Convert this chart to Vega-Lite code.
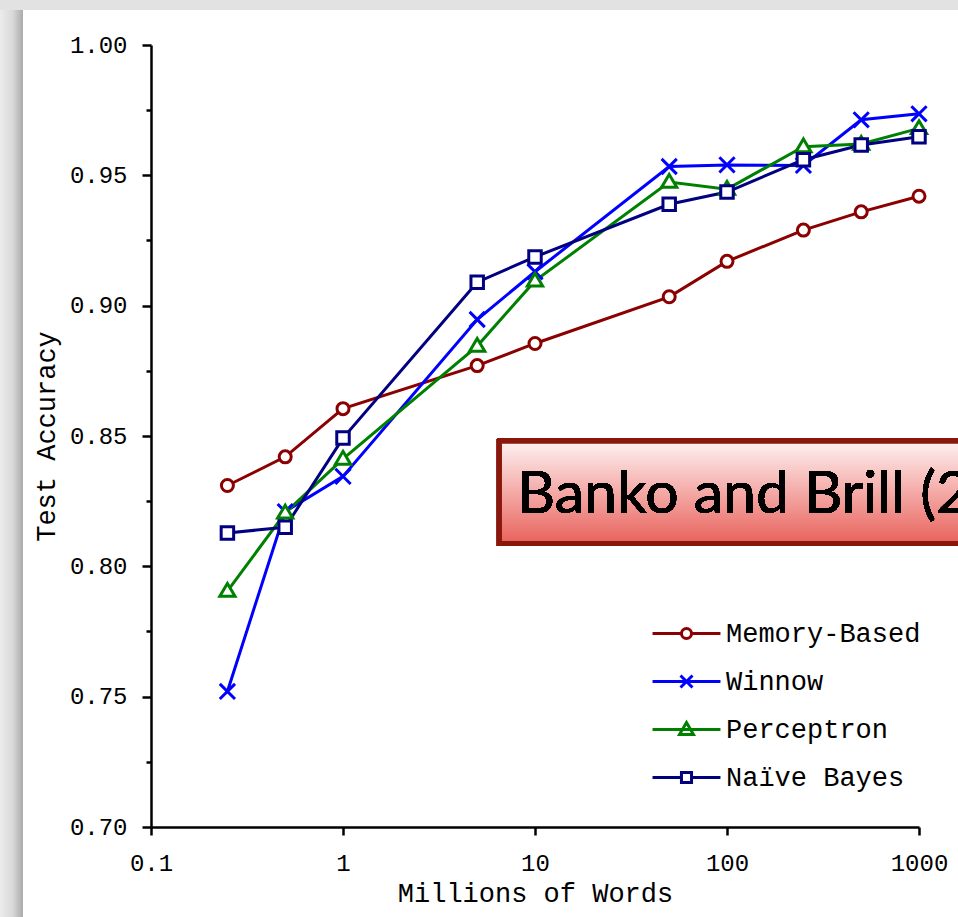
{
  "$schema": "https://vega.github.io/schema/vega-lite/v6.json",
  "width": 768,
  "height": 782,
  "autosize": {"type": "none"},
  "padding": {"left": 151, "top": 45, "right": 39, "bottom": 90},
  "background": "#ffffff",
  "config": {
    "view": {"stroke": null},
    "font": "Liberation Mono"
  },
  "datasets": {
    "accuracy": [
      {"model": "Memory-Based", "words": 0.25, "acc": 0.831},
      {"model": "Memory-Based", "words": 0.5, "acc": 0.842},
      {"model": "Memory-Based", "words": 1, "acc": 0.8605},
      {"model": "Memory-Based", "words": 5, "acc": 0.877},
      {"model": "Memory-Based", "words": 10, "acc": 0.8855},
      {"model": "Memory-Based", "words": 50, "acc": 0.9034},
      {"model": "Memory-Based", "words": 100, "acc": 0.917},
      {"model": "Memory-Based", "words": 250, "acc": 0.929},
      {"model": "Memory-Based", "words": 500, "acc": 0.936},
      {"model": "Memory-Based", "words": 1000, "acc": 0.942},
      {"model": "Winnow", "words": 0.25, "acc": 0.752},
      {"model": "Winnow", "words": 0.5, "acc": 0.821},
      {"model": "Winnow", "words": 1, "acc": 0.8345},
      {"model": "Winnow", "words": 5, "acc": 0.8947},
      {"model": "Winnow", "words": 10, "acc": 0.913},
      {"model": "Winnow", "words": 50, "acc": 0.9534},
      {"model": "Winnow", "words": 100, "acc": 0.954},
      {"model": "Winnow", "words": 250, "acc": 0.9538},
      {"model": "Winnow", "words": 500, "acc": 0.9713},
      {"model": "Winnow", "words": 1000, "acc": 0.9736},
      {"model": "Perceptron", "words": 0.25, "acc": 0.7905},
      {"model": "Perceptron", "words": 0.5, "acc": 0.8205},
      {"model": "Perceptron", "words": 1, "acc": 0.8412},
      {"model": "Perceptron", "words": 5, "acc": 0.8845},
      {"model": "Perceptron", "words": 10, "acc": 0.9095},
      {"model": "Perceptron", "words": 50, "acc": 0.9474},
      {"model": "Perceptron", "words": 100, "acc": 0.9447},
      {"model": "Perceptron", "words": 250, "acc": 0.961},
      {"model": "Perceptron", "words": 500, "acc": 0.962},
      {"model": "Perceptron", "words": 1000, "acc": 0.968},
      {"model": "Naïve Bayes", "words": 0.25, "acc": 0.8128},
      {"model": "Naïve Bayes", "words": 0.5, "acc": 0.815},
      {"model": "Naïve Bayes", "words": 1, "acc": 0.8492},
      {"model": "Naïve Bayes", "words": 5, "acc": 0.909},
      {"model": "Naïve Bayes", "words": 10, "acc": 0.9187},
      {"model": "Naïve Bayes", "words": 50, "acc": 0.9389},
      {"model": "Naïve Bayes", "words": 100, "acc": 0.9436},
      {"model": "Naïve Bayes", "words": 250, "acc": 0.956},
      {"model": "Naïve Bayes", "words": 500, "acc": 0.9616},
      {"model": "Naïve Bayes", "words": 1000, "acc": 0.9648}
    ]
  },
  "data": {"name": "accuracy"},
  "layer": [
    {
      "description": "grey page margin along the top",
      "mark": {"type": "rect", "fill": {"gradient": "linear", "x1": 0, "y1": 0, "x2": 0, "y2": 1, "stops": [{"offset": 0, "color": "#f1f1f1"}, {"offset": 1, "color": "#e2e2e2"}]}},
      "encoding": {
        "x": {"datum": 0.01635, "type": "quantitative", "scale": {"type": "log", "domain": [0.1, 1000], "nice": false}},
        "x2": {"datum": 100000},
        "y": {"datum": 1.01343, "type": "quantitative", "scale": {"domain": [0.7, 1.0], "nice": false, "zero": false}},
        "y2": {"datum": 1.2}
      }
    },
    {
      "description": "shaded page margin along the left edge",
      "mark": {"type": "rect", "fill": {"gradient": "linear", "x1": 0, "y1": 0, "x2": 1, "y2": 0, "stops": [{"offset": 0, "color": "#ececec"}, {"offset": 0.55, "color": "#d9d9d9"}, {"offset": 1, "color": "#ababab"}]}},
      "encoding": {
        "x": {"datum": 0.01635, "type": "quantitative", "scale": {"type": "log", "domain": [0.1, 1000], "nice": false}},
        "x2": {"datum": 0.02154},
        "y": {"datum": 1.01343, "type": "quantitative", "scale": {"domain": [0.7, 1.0], "nice": false, "zero": false}},
        "y2": {"datum": 0.5}
      }
    },
    {
      "description": "title banner",
      "mark": {
        "type": "rect",
        "stroke": "#8a170b",
        "strokeWidth": 5,
        "fill": {"gradient": "linear", "x1": 0, "y1": 0, "x2": 0, "y2": 1, "stops": [{"offset": 0, "color": "#fdf1f1"}, {"offset": 0.5, "color": "#f4aaa7"}, {"offset": 1, "color": "#e8625b"}]}
      },
      "encoding": {
        "x": {"datum": 6.53, "type": "quantitative", "scale": {"type": "log", "domain": [0.1, 1000], "nice": false}},
        "x2": {"datum": 100000},
        "y": {"datum": 0.848, "type": "quantitative", "scale": {"domain": [0.7, 1.0], "nice": false, "zero": false}},
        "y2": {"datum": 0.8088}
      }
    },
    {
      "mark": {"type": "text", "text": "Banko and Brill (2001)", "font": "Lato", "fontSize": 59, "align": "left", "baseline": "alphabetic", "color": "#000000"},
      "encoding": {
        "x": {"datum": 8.06, "type": "quantitative", "scale": {"type": "log", "domain": [0.1, 1000], "nice": false}},
        "y": {"datum": 0.8205, "type": "quantitative", "scale": {"domain": [0.7, 1.0], "nice": false, "zero": false}}
      }
    },
    {
      "mark": {"type": "line", "strokeWidth": 3},
      "encoding": {
        "x": {
          "field": "words", "type": "quantitative",
          "scale": {"type": "log", "domain": [0.1, 1000], "nice": false},
          "axis": {
            "title": "Millions of Words",
            "values": [0.1, 1, 10, 100, 1000],
            "format": "~g",
            "domainColor": "#000000", "domainWidth": 2.5,
            "tickColor": "#000000", "tickWidth": 2.5, "tickSize": 8,
            "labelFont": "Liberation Mono", "labelFontSize": 24, "labelColor": "#000000", "labelPadding": 16,
            "labelOverlap": false, "labelFlush": false,
            "titleFont": "Liberation Mono", "titleFontSize": 27, "titleFontWeight": "normal", "titleColor": "#000000", "titlePadding": 5,
            "grid": false
          }
        },
        "y": {
          "field": "acc", "type": "quantitative",
          "scale": {"domain": [0.7, 1.0], "nice": false, "zero": false},
          "axis": {
            "title": "Test Accuracy",
            "values": [0.7, 0.725, 0.75, 0.775, 0.8, 0.825, 0.85, 0.875, 0.9, 0.925, 0.95, 0.975, 1.0],
            "labelExpr": "round(datum.value * 1000) % 50 == 0 ? format(datum.value, '.2f') : ''",
            "tickSize": {"condition": {"test": "round(datum.value * 1000) % 50 != 0", "value": 5}, "value": 9},
            "domainColor": "#000000", "domainWidth": 2.5,
            "tickColor": "#000000", "tickWidth": 2.5,
            "labelFont": "Liberation Mono", "labelFontSize": 24, "labelColor": "#000000", "labelPadding": 15,
            "labelOverlap": false, "labelFlush": false,
            "titleFont": "Liberation Mono", "titleFontSize": 27, "titleFontWeight": "normal", "titleColor": "#000000", "titlePadding": 9,
            "grid": false
          }
        },
        "color": {
          "field": "model", "type": "nominal",
          "scale": {"range": ["#8b0000", "#000080", "#008000", "#0000ff"]},
          "legend": null
        },
        "detail": {"field": "model"}
      }
    },
    {
      "description": "Memory-Based markers",
      "transform": [{"filter": "datum.model == 'Memory-Based'"}],
      "mark": {"type": "point", "filled": false, "fill": "#ffffff", "opacity": 1, "strokeWidth": 3, "size": 256, "shape": "M-0.75,0A0.75,0.75,0,1,0,0.75,0A0.75,0.75,0,1,0,-0.75,0Z"},
      "encoding": {
        "x": {"field": "words", "type": "quantitative", "scale": {"type": "log", "domain": [0.1, 1000], "nice": false}},
        "y": {"field": "acc", "type": "quantitative", "scale": {"domain": [0.7, 1.0], "nice": false, "zero": false}},
        "color": {"field": "model", "type": "nominal", "legend": null}
      }
    },
    {
      "description": "Winnow markers",
      "transform": [{"filter": "datum.model == 'Winnow'"}],
      "mark": {"type": "point", "filled": false, "fill": "#ffffff", "opacity": 1, "strokeWidth": 3, "size": 256, "shape": "M-0.95,-0.95L0.95,0.95M-0.95,0.95L0.95,-0.95"},
      "encoding": {
        "x": {"field": "words", "type": "quantitative", "scale": {"type": "log", "domain": [0.1, 1000], "nice": false}},
        "y": {"field": "acc", "type": "quantitative", "scale": {"domain": [0.7, 1.0], "nice": false, "zero": false}},
        "color": {"field": "model", "type": "nominal", "legend": null}
      }
    },
    {
      "description": "Perceptron markers",
      "transform": [{"filter": "datum.model == 'Perceptron'"}],
      "mark": {"type": "point", "filled": false, "fill": "#ffffff", "opacity": 1, "strokeWidth": 3, "size": 256, "shape": "M0,-0.95L0.95,0.65H-0.95Z"},
      "encoding": {
        "x": {"field": "words", "type": "quantitative", "scale": {"type": "log", "domain": [0.1, 1000], "nice": false}},
        "y": {"field": "acc", "type": "quantitative", "scale": {"domain": [0.7, 1.0], "nice": false, "zero": false}},
        "color": {"field": "model", "type": "nominal", "legend": null}
      }
    },
    {
      "description": "Naïve Bayes markers",
      "transform": [{"filter": "datum.model == 'Naïve Bayes'"}],
      "mark": {"type": "point", "filled": false, "fill": "#ffffff", "opacity": 1, "strokeWidth": 3, "size": 256, "shape": "M-0.78,-0.78H0.78V0.78H-0.78Z"},
      "encoding": {
        "x": {"field": "words", "type": "quantitative", "scale": {"type": "log", "domain": [0.1, 1000], "nice": false}},
        "y": {"field": "acc", "type": "quantitative", "scale": {"domain": [0.7, 1.0], "nice": false, "zero": false}},
        "color": {"field": "model", "type": "nominal", "legend": null}
      }
    },
    {
      "description": "legend entries only; the rows are filtered out",
      "transform": [{"filter": "false"}],
      "mark": {"type": "point", "filled": false, "opacity": 1, "strokeWidth": 3, "size": 576},
      "encoding": {
        "x": {"field": "words", "type": "quantitative", "scale": {"type": "log", "domain": [0.1, 1000], "nice": false}},
        "y": {"field": "acc", "type": "quantitative", "scale": {"domain": [0.7, 1.0], "nice": false, "zero": false}},
        "stroke": {
          "field": "model", "type": "nominal",
          "scale": {"domain": ["Memory-Based", "Winnow", "Perceptron", "Naïve Bayes"], "range": ["#8b0000", "#0000ff", "#008000", "#000080"]},
          "legend": {
            "orient": "none", "legendX": 522, "legendY": 575, "title": null, "padding": 0,
            "labelFont": "Liberation Mono", "labelFontSize": 27, "labelColor": "#000000", "labelOffset": 26, "labelLimit": 0,
            "symbolSize": 576, "symbolStrokeWidth": 3, "rowPadding": 20, "symbolOpacity": 1
          }
        },
        "shape": {
          "field": "model", "type": "nominal",
          "scale": {
            "domain": ["Memory-Based", "Winnow", "Perceptron", "Naïve Bayes"],
            "range": [
              "M-2.83,0H-0.42M0.42,0H2.83M-0.42,0A0.42,0.42,0,1,0,0.42,0A0.42,0.42,0,1,0,-0.42,0Z",
              "M-2.83,0H2.83M-0.5,-0.5L0.5,0.5M-0.5,0.5L0.5,-0.5",
              "M-2.83,0H2.83M0,-0.58L0.58,0.42H-0.58Z",
              "M-2.83,0H-0.42M0.42,0H2.83M-0.42,-0.42H0.42V0.42H-0.42Z"
            ]
          },
          "legend": {
            "orient": "none", "legendX": 522, "legendY": 575, "title": null, "padding": 0,
            "labelFont": "Liberation Mono", "labelFontSize": 27, "labelColor": "#000000", "labelOffset": 26, "labelLimit": 0,
            "symbolSize": 576, "symbolStrokeWidth": 3, "rowPadding": 20, "symbolOpacity": 1
          }
        }
      }
    }
  ]
}
